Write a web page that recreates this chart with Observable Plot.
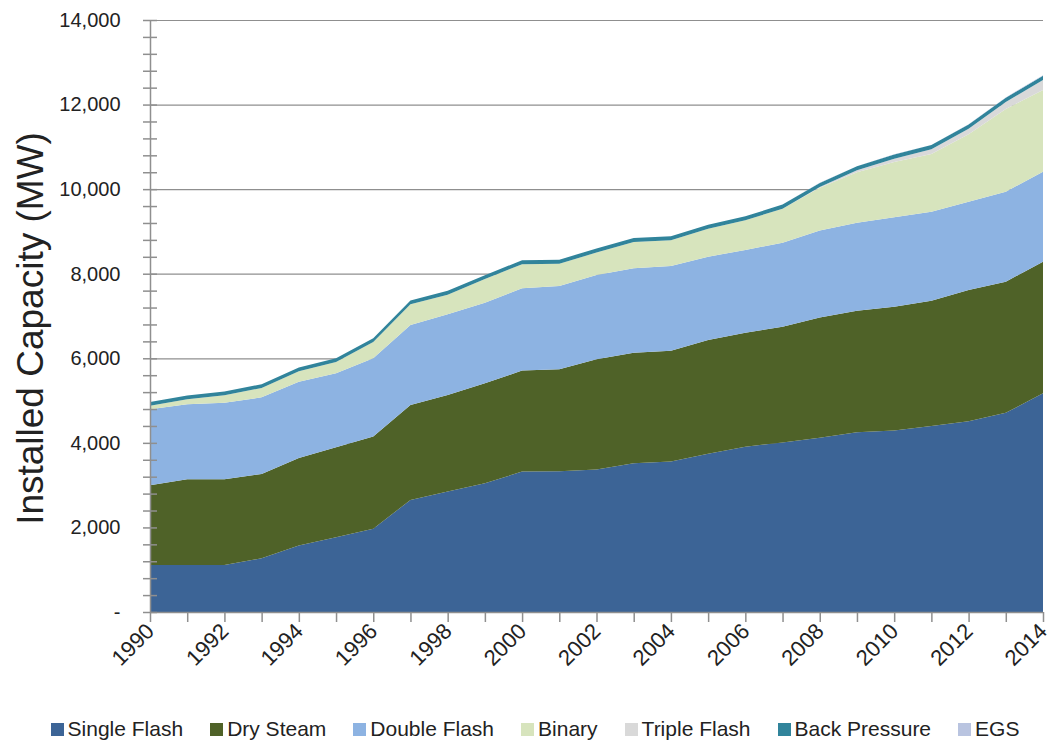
<!DOCTYPE html>
<html>
<head>
<meta charset="utf-8">
<script src="https://cdn.jsdelivr.net/npm/d3@7"></script>
<script src="https://cdn.jsdelivr.net/npm/@observablehq/plot@0.6"></script>
<style>
  html, body { margin: 0; padding: 0; background: #ffffff; }
  body { width: 1052px; height: 744px; overflow: hidden; font-family: "Liberation Sans", Arial, sans-serif; }
  #legend { display: flex; justify-content: center; align-items: center; gap: 27px; margin-top: 17px; padding-left: 18px; font-size: 21px; line-height: 24px; color: #222; }
  #legend .item { display: flex; align-items: center; gap: 4px; white-space: nowrap; }
  #legend .sw { width: 13px; height: 13px; display: inline-block; }
</style>
</head>
<body>
<div id="chart"></div>
<div id="legend"></div>
<script>
// ---- Data (MW) ----
const years = [1990,1991,1992,1993,1994,1995,1996,1997,1998,1999,2000,2001,2002,2003,2004,2005,2006,2007,2008,2009,2010,2011,2012,2013,2014];
const singleFlash = [1110,1110,1110,1270,1570,1770,1970,2650,2850,3045,3320,3330,3370,3520,3560,3740,3910,4010,4120,4250,4290,4400,4510,4710,5175];
const drySteam    = [1886,2028,2030,1993,2070,2124,2180,2245,2282,2363,2390,2410,2605,2612,2620,2693,2696,2738,2845,2876,2930,2962,3105,3102,3110];
const doubleFlash = [1798,1774,1810,1814,1807,1750,1850,1892,1908,1908,1945,1970,1995,1996,2003,1970,1955,1986,2055,2082,2114,2106,2089,2129,2129];
const binary      = [85,118,175,221,246,269,386,490,465,559,568,528,530,623,608,662,703,805,1013,1189,1307,1365,1597,1956,1930];
const tripleFlash = [0,0,0,0,0,0,0,0,0,0,0,0,0,0,0,0,0,0,20,50,80,110,130,165,240];
const backPressure= [90,90,90,90,90,90,90,90,90,90,95,95,95,95,95,95,95,95,95,95,100,100,100,100,100];
const egs         = [0,0,0,0,0,0,0,0,0,0,0,0,0,0,0,0,0,0,2,2,2,3,5,8,10];

const seriesNames = ["Single Flash","Dry Steam","Double Flash","Binary","Triple Flash","Back Pressure","EGS"];
const seriesColors = ["#3C6496","#4F6228","#8DB3E2","#D7E4BD","#D9D9D9","#31849B","#B9C4E0"];
const yTickValues = [0,2000,4000,6000,8000,10000,12000,14000];
const xLabelYears = [1990,1992,1994,1996,1998,2000,2002,2004,2006,2008,2010,2012,2014];
const yLabel = ["Installed Capacity (MW)"];

// ---- Build long table ----
const seriesValues = [singleFlash, drySteam, doubleFlash, binary, tripleFlash, backPressure, egs];
const table = [];
seriesNames.forEach((name, i) => {
  years.forEach((yr, j) => table.push({year: yr, type: name, value: seriesValues[i][j]}));
});

const axisColor = "#8f8f8f";

const chart = Plot.plot({
  width: 1052,
  height: 700,
  marginLeft: 150,
  marginRight: 9,
  marginTop: 20,
  marginBottom: 88,
  style: {fontFamily: "'Liberation Sans', Arial, sans-serif", fontSize: "20px", color: "#222", background: "#ffffff"},
  x: {domain: [1990, 2014]},
  y: {domain: [0, 14000]},
  color: {domain: seriesNames, range: seriesColors},
  marks: [
    Plot.gridY(yTickValues, {stroke: axisColor, strokeOpacity: 1, strokeWidth: 1.2}),
    Plot.areaY(table, {x: "year", y: "value", fill: "type", z: "type", order: seriesNames}),
    Plot.ruleX([1990], {stroke: axisColor, strokeWidth: 1.5}),
    Plot.ruleY([0], {stroke: axisColor, strokeWidth: 1.5}),
    Plot.axisY({interval: 400, tickSize: 14, dx: 7, stroke: axisColor, strokeWidth: 1.5, tickFormat: () => "", label: null}),
    Plot.axisY({ticks: yTickValues, tickSize: 0, tickPadding: 30, fill: "#222", fontSize: 20, tickFormat: d => d === 0 ? "-" : d3.format(",")(d), label: null}),
    Plot.axisX({ticks: years, tickSize: 10, stroke: axisColor, strokeWidth: 1.5, tickFormat: () => "", label: null}),
    Plot.axisX({ticks: xLabelYears, tickSize: 0, tickPadding: 15, tickRotate: -45, fill: "#222", fontSize: 22, tickFormat: d => String(d), label: null}),
    Plot.text(yLabel, {text: d => d, frameAnchor: "left", textAnchor: "middle", dx: -119, dy: 12, rotate: -90, fontSize: 37, fill: "#222"})
  ]
});
document.getElementById("chart").appendChild(chart);

const legend = document.getElementById("legend");
seriesNames.forEach((name, i) => {
  const item = document.createElement("div");
  item.className = "item";
  const sw = document.createElement("span");
  sw.className = "sw";
  sw.style.background = seriesColors[i];
  const label = document.createElement("span");
  label.textContent = name;
  item.appendChild(sw);
  item.appendChild(label);
  legend.appendChild(item);
});
</script>
</body>
</html>
